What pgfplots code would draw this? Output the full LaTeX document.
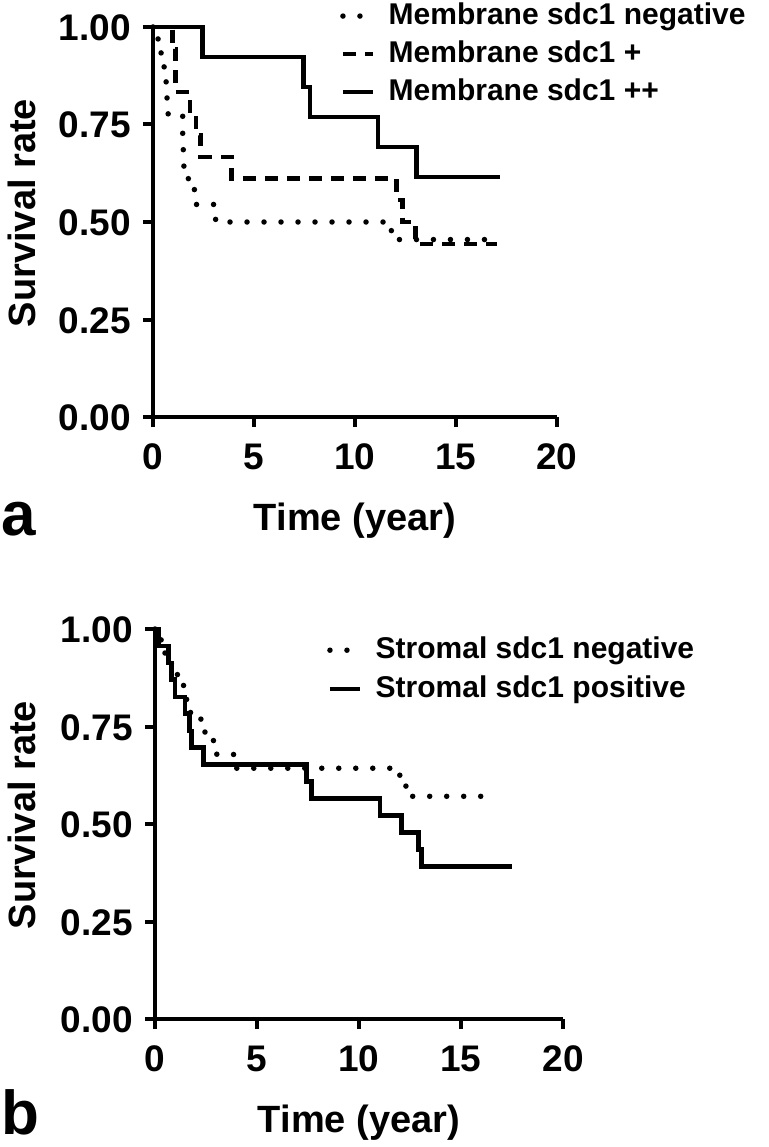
\documentclass[border=0pt]{standalone}
\usepackage{fontspec}
\setmainfont{Liberation Sans}
\usepackage{pgfplots}
\pgfplotsset{compat=1.18}

% GraphPad-like look: thick black axes, outside ticks, bold Arial-type text
\pgfplotsset{
  km/.style={
    scale only axis, height=390pt,
    xmin=0, xmax=20, ymin=0, ymax=1,
    enlargelimits=false, clip=false,
    axis lines=left,
    axis line style={line width=4pt, -},
    tick align=outside, major tick length=10pt,
    tick style={line width=4pt, black},
    xtick={0,5,10,15,20},
    ytick={0,0.25,0.5,0.75,1},
    /pgf/number format/assume math mode=true,
    tick label style={font=\fontsize{37}{37}\selectfont\bfseries, inner sep=0pt, text height=27pt, text depth=0pt},
    xticklabel style={anchor=north, yshift=-15pt},
    yticklabel style={anchor=east, xshift=-12pt, /pgf/number format/.cd, fixed, fixed zerofill, precision=2},
    xlabel={Time (year)},
    ylabel={Survival rate},
    every axis x label/.style={at={(axis description cs:0.5,0)}, anchor=base, yshift=-113pt,
      font=\fontsize{38}{38}\selectfont\bfseries},
    legend cell align=left,
    legend image code/.code={\draw[##1] (0pt,0pt) -- (30pt,0pt);},
  },
  ylab/.style={every axis y label/.style={at={(axis description cs:#1,0.523)}, rotate=90, anchor=base,
      font=\fontsize{38}{38}\selectfont\bfseries}},
  dotline/.style={black, line width=5.5pt, line cap=round, dash pattern=on 0pt off 17pt, const plot},
  dashline/.style={black, line width=4.5pt, dash pattern=on 13pt off 9pt, const plot},
  solidline/.style={black, line width=4.5pt, const plot},
}

\begin{document}
\begin{tikzpicture}
\path[use as bounding box] (0pt,0pt) rectangle (768pt,-1147pt);

% panel a
\begin{axis}[km,
  at={(153pt,-417pt)}, anchor=south west, width=404pt,
  ylab=-0.292,
  legend style={at={(axis description cs:0.4629,1.067)}, anchor=north west,
    draw=none, fill=none, inner sep=0pt, row sep=8pt, column sep=13pt,
    font=\fontsize{30}{30}\selectfont\bfseries,
    nodes={inner sep=0pt, text height=23pt, text depth=7pt}},
]
\addplot[dotline] coordinates {
(0,1) (0.25,0.955) (0.4,0.909) (0.55,0.864) (0.65,0.818) (0.75,0.773)
(1.47,0.727) (1.5,0.682) (1.53,0.636) (1.75,0.591) (2.05,0.545) (3.1,0.5)
(11.8,0.455) (17.1,0.455)
};
\addlegendentry{Membrane sdc1 negative}
\addplot[dashline] coordinates {
(0,1) (0.96,0.944) (1.12,0.833) (1.83,0.778) (2.13,0.722) (2.36,0.667)
(3.89,0.611) (12.06,0.556) (12.35,0.5) (13.0,0.444) (17.05,0.444)
};
\addlegendentry{Membrane sdc1 +}
\addplot[solidline] coordinates {
(0,1) (2.44,0.923) (7.44,0.846) (7.77,0.769) (11.15,0.692) (13.05,0.615) (17.18,0.615)
};
\addlegendentry{Membrane sdc1 ++}
\end{axis}

% panel b
\begin{axis}[km,
  at={(155pt,-1019pt)}, anchor=south west, width=408pt,
  ylab=-0.294,
  legend style={at={(axis description cs:0.4216,0.9846)}, anchor=north west,
    draw=none, fill=none, inner sep=0pt, row sep=9pt, column sep=13pt,
    font=\fontsize{30}{30}\selectfont\bfseries,
    nodes={inner sep=0pt, text height=23pt, text depth=7pt}},
]
\addplot[dotline] coordinates {
(0,1) (0.3,0.964) (0.49,0.929) (0.8,0.893) (1.1,0.857) (1.4,0.821) (1.55,0.786)
(2.25,0.75) (2.45,0.714) (3.0,0.679) (3.85,0.643) (12.0,0.607) (12.3,0.571) (16.7,0.571)
};
\addlegendentry{Stromal sdc1 negative}
\addplot[solidline] coordinates {
(0,1) (0.16,0.957) (0.65,0.913) (0.82,0.870) (0.98,0.826) (1.47,0.783) (1.68,0.739)
(1.80,0.696) (2.37,0.652) (7.43,0.609) (7.68,0.565) (11.03,0.522) (12.09,0.478)
(12.91,0.435) (13.07,0.391) (17.48,0.391)
};
\addlegendentry{Stromal sdc1 positive}
\end{axis}

\node[anchor=base west, inner sep=0pt, font=\fontsize{62}{62}\selectfont\bfseries] at (1pt,-535pt) {a};
\node[anchor=base west, inner sep=0pt, font=\fontsize{62}{62}\selectfont\bfseries] at (1pt,-1134pt) {b};
\end{tikzpicture}
\end{document}
